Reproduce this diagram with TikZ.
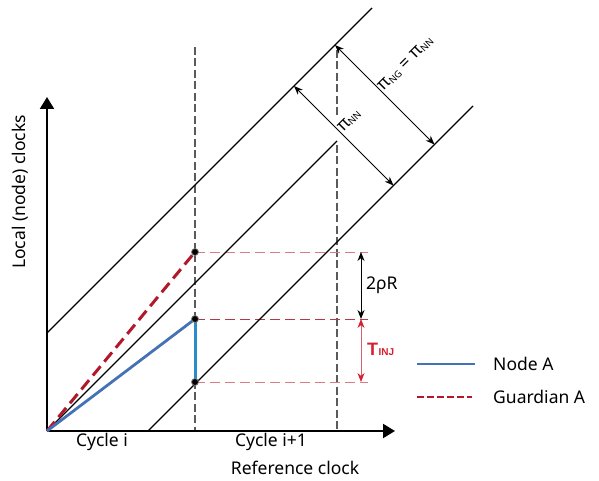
\documentclass[tikz,border=0pt]{standalone}
\usepackage{fontspec}
\setmainfont{Noto Sans}
\newfontfamily\heavysans{Liberation Sans}
\usetikzlibrary{arrows.meta,calc}

\definecolor{guidegray}{HTML}{5A5A5A}
\definecolor{nodeblue}{HTML}{4472B4}
\definecolor{jumpblue}{HTML}{2B8BCB}
\definecolor{guardred}{HTML}{B2182B}
\definecolor{midred}{HTML}{B23A48}
\definecolor{palered}{HTML}{DC7A86}
\definecolor{injred}{HTML}{D42030}
\definecolor{injline}{HTML}{D66070}

% small subscript sitting near the baseline
\newcommand{\lowsub}[1]{\raisebox{-1pt}{\fontsize{9.5}{10}\selectfont #1}}

\tikzset{
  axisline/.style={line width=2.2pt, -{Triangle[width=14pt,length=12pt]}},
  clockline/.style={line width=1.4pt, black},
  cycleguide/.style={guidegray, line width=1.4pt, dash pattern=on 8pt off 3.5pt},
  levelguide/.style={line width=1pt, dash pattern=on 10pt off 5pt},
  guardline/.style={guardred, line width=3pt, dash pattern=on 12pt off 6pt},
  nodeline/.style={nodeblue, line width=2.8pt},
  jumpline/.style={jumpblue, line width=3pt},
  spanarrow/.style={line width=0.9pt, {Stealth[length=9pt,width=7pt]}-{Stealth[length=9pt,width=7pt]}},
  sample/.style={circle, fill=black, draw=gray, line width=0.8pt, inner sep=0pt, minimum size=7pt},
  lbl/.style={inner sep=0pt},
  diaglbl/.style={inner sep=1.5pt, rotate=45, anchor=south west}
}

\begin{document}
\begin{tikzpicture}[x=1pt, y=-1pt, font=\fontsize{17.5}{20}\selectfont]
\useasboundingbox (0,0) rectangle (599,481);

% axes
\coordinate (O) at (47,431);
\coordinate (ytop) at (47,97);
\coordinate (xend) at (395,431);

% clock lines (slope 1)
\coordinate (l1a) at (47,333);  \coordinate (l1b) at (372,8);
\coordinate (l2a) at (47,431);  \coordinate (l2b) at (337,141);
\coordinate (l3a) at (148,431); \coordinate (l3b) at (473,106);

% cycle boundaries
\coordinate (c1top) at (195,47);  \coordinate (c1bot) at (195,431);
\coordinate (c2top) at (337,50);  \coordinate (c2mid) at (337,118);
\coordinate (c2low) at (337,145); \coordinate (c2bot) at (337,431);

% samples at the end of cycle i
\coordinate (gA) at (195,252);
\coordinate (nA) at (195,319);
\coordinate (nC) at (195,382);
\coordinate (gAr) at (368,252);
\coordinate (nAr) at (368,319);
\coordinate (nCr) at (368,382);

% vertical measures
\coordinate (rhoTop) at (361,252);
\coordinate (rhoBot) at (361,319);
\coordinate (injBot) at (361,382);

% perpendicular spans between clock lines
\coordinate (pa1) at (294,86);  \coordinate (pa2) at (393.5,185.5);
\coordinate (pb1) at (335,45);  \coordinate (pb2) at (434.5,144.5);

% guides
\draw[cycleguide] (c1top) -- (c1bot);
\draw[cycleguide] (c2top) -- (c2mid);
\draw[cycleguide] (c2low) -- (c2bot);
\draw[levelguide, palered] (gA) -- (gAr);
\draw[levelguide, midred] (nA) -- (nAr);
\draw[levelguide, palered] (nC) -- (nCr);

% clock lines
\draw[clockline] (l1a) -- (l1b);
\draw[clockline] (l2a) -- (l2b);
\draw[clockline] (l3a) -- (l3b);

% axes
\draw[axisline] (O) -- (ytop);
\draw[axisline] (O) -- (xend);

% local clocks
\draw[guardline] (O) -- (gA);
\draw[nodeline] (O) -- (nA);
\draw[jumpline] (nA) -- (nC);

\node[sample] (dotG) at (gA) {};
\node[sample] (dotN) at (nA) {};
\node[sample] (dotC) at (nC) {};

% measures
\draw[spanarrow, black] (rhoTop) -- (rhoBot);
\draw[line width=0.9pt, injline, {Stealth[length=9pt,width=7pt,injred]}-{Stealth[length=9pt,width=7pt,injred]}] (rhoBot) -- (injBot);
\node[lbl, anchor=west] (rhoLbl) at (366,285) {2ρR};
\node[lbl, anchor=base west, text=injred, font=\heavysans\bfseries] (injLbl) at (367,355)
  {\fontsize{18}{20}\selectfont T\hspace{0.5pt}\fontsize{10}{10}\selectfont INJ};

\draw[spanarrow] (pa1) -- (pa2);
\draw[spanarrow] (pb1) -- (pb2);
\node[diaglbl] (piNN) at ($(pa1)!0.5!(pa2)$) {π\lowsub{NN}};
\node[diaglbl] (piNG) at ($(pb1)!0.5!(pb2)$) {π\lowsub{NG} = π\lowsub{NN}};

% axis labels
\node[lbl] (cycI) at (102,442) {Cycle i};
\node[lbl] (cycI1) at (271,442) {Cycle i+1};
\node[lbl] (xlab) at (295,468) {Reference clock};
\node[lbl, rotate=90] (ylab) at (20,192) {Local (node) clocks};

% legend
\coordinate (lgB1) at (417,364); \coordinate (lgB2) at (475,364);
\coordinate (lgR1) at (417,397); \coordinate (lgR2) at (472,397);
\draw[nodeblue, line width=2.6pt] (lgB1) -- (lgB2);
\draw[guardred, line width=2.6pt, dash pattern=on 6.5pt off 3.5pt] (lgR1) -- (lgR2);
\node[lbl, anchor=west] (lgBt) at (493,364) {Node A};
\node[lbl, anchor=west] (lgRt) at (493,397) {Guardian A};
\end{tikzpicture}
\end{document}
